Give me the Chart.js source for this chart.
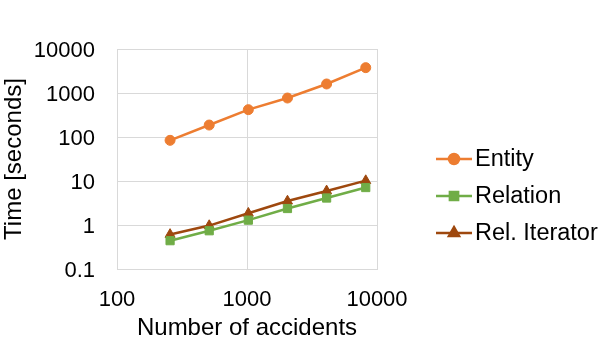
<!DOCTYPE html>
<html>
<head>
<meta charset="utf-8">
<script src="https://cdn.jsdelivr.net/npm/chart.js@4/dist/chart.umd.min.js"></script>
<style>
  html, body { margin: 0; padding: 0; background: #fff; }
  #wrap { width: 598px; height: 343px; }
</style>
</head>
<body>
<div id="wrap"><canvas id="chart" width="598" height="343"></canvas></div>
<script>
const accidents  = [256, 512, 1024, 2048, 4096, 8192];
const entity     = [84, 187, 418, 769, 1603, 3767];
const relation   = [0.44, 0.74, 1.29, 2.37, 4.1, 7.1];
const relIter    = [0.61, 0.97, 1.85, 3.5, 5.95, 10.2];
const xTicks     = [100, 1000, 10000];
const yTicks     = [0.1, 1, 10, 100, 1000, 10000];

const FONT = "'Liberation Sans', Arial, sans-serif";
const gridColor = '#d9d9d9';

const toPoints = ys => ys.map((y, i) => ({ x: accidents[i], y }));

const series = [
  { label: 'Entity',        data: entity,   color: '#ed7d31', style: 'circle',   radius: 5 },
  { label: 'Relation',      data: relation, color: '#70ad47', style: 'rect',     radius: 5.8 },
  { label: 'Rel. Iterator', data: relIter,  color: '#9e480e', style: 'triangle', radius: 5.8 },
];

// legend drawn by hand: line + marker, like the original
const sideLegend = {
  id: 'sideLegend',
  afterDraw(chart) {
    const ctx = chart.ctx;
    const x0 = 436, x1 = 472, textX = 475;
    const rows = [159, 196, 233];
    ctx.save();
    series.forEach((s, i) => {
      const y = rows[i];
      ctx.strokeStyle = s.color;
      ctx.lineWidth = 2.5;
      ctx.beginPath();
      ctx.moveTo(x0, y);
      ctx.lineTo(x1, y);
      ctx.stroke();
      ctx.fillStyle = s.color;
      ctx.strokeStyle = s.color;
      Chart.helpers.drawPoint(ctx, {
        pointStyle: s.style, radius: s.radius, rotation: 0, borderWidth: 1
      }, (x0 + x1) / 2, y);
      ctx.fillStyle = '#000';
      ctx.font = '23.5px ' + FONT;
      ctx.textBaseline = 'middle';
      ctx.textAlign = 'left';
      ctx.fillText(s.label, textX, y + 1);
    });
    ctx.restore();
  }
};

const fmt = v => (v < 1 ? v.toString() : String(Math.round(v)));

new Chart(document.getElementById('chart'), {
  type: 'line',
  data: {
    datasets: series.map(s => ({
      label: s.label,
      data: toPoints(s.data),
      borderColor: s.color,
      backgroundColor: s.color,
      borderWidth: 2.5,
      pointStyle: s.style,
      pointRadius: s.radius,
      pointBorderWidth: 1,
      tension: 0,
    })),
  },
  options: {
    responsive: false,
    animation: false,
    layout: { padding: { left: 0, top: 49, right: 221, bottom: 0 } },
    plugins: {
      legend:  { display: false },
      tooltip: { enabled: false },
    },
    scales: {
      x: {
        type: 'logarithmic',
        min: 100,
        max: 10000,
        afterBuildTicks: s => { s.ticks = xTicks.map(v => ({ value: v })); },
        afterFit: s => { s.height = 74; },
        ticks: {
          color: '#000',
          font: { family: FONT, size: 22 },
          padding: 18,
          maxRotation: 0,
          callback: fmt,
        },
        grid:   { color: gridColor, lineWidth: 1, drawTicks: false },
        border: { color: gridColor },
        title: {
          display: true,
          text: 'Number of accidents',
          color: '#000',
          font: { family: FONT, size: 24 },
          padding: { top: 0, bottom: 0 },
        },
      },
      y: {
        type: 'logarithmic',
        min: 0.1,
        max: 10000,
        afterBuildTicks: s => { s.ticks = yTicks.map(v => ({ value: v })); },
        afterFit: s => { s.width = 117; },
        ticks: {
          color: '#000',
          font: { family: FONT, size: 22 },
          padding: 22,
          labelOffset: 2,
          callback: fmt,
        },
        grid:   { color: gridColor, lineWidth: 1, drawTicks: false },
        border: { color: gridColor },
        title: {
          display: true,
          text: 'Time [seconds]',
          color: '#000',
          font: { family: FONT, size: 24 },
          padding: { top: 0, bottom: 0 },
        },
      },
    },
  },
  plugins: [sideLegend],
});
</script>
</body>
</html>
